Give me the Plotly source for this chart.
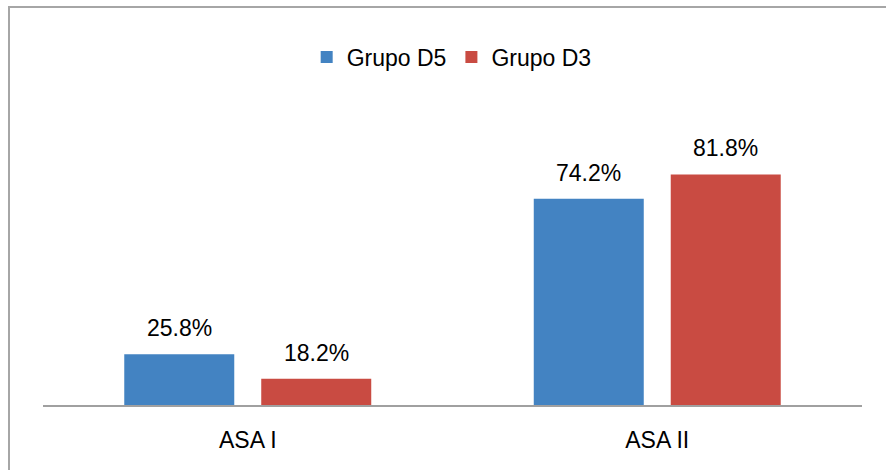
import plotly.graph_objects as go

# Data
categories = ["ASA I", "ASA II"]
series_names = ["Grupo D5", "Grupo D3"]
grupo_d5 = [25.8, 74.2]
grupo_d3 = [18.2, 81.8]
series_values = [grupo_d5, grupo_d3]
series_colors = ["#4383C2", "#C94B42"]

W, H = 886, 470
M_L, M_R, M_T, M_B = 43, 24, 116, 65
BARGAP = 0.331
BARGROUPGAP = 0.197
Y_RANGE = [10, 100]
FONT = "Liberation Sans"
FS = 23

fig = go.Figure()
for name, vals, col in zip(series_names, series_values, series_colors):
    fig.add_trace(go.Bar(
        name=name, x=categories, y=vals,
        marker=dict(color=col, line=dict(width=0)),
        hoverinfo="skip",
    ))

# Value labels above each bar, offset to the bar's slot within the group
n = len(series_values)
slot = (1 - BARGAP) / n
annotations = []
for k, vals in enumerate(series_values):
    off = -(1 - BARGAP) / 2 + slot * (k + 0.5)
    for i, v in enumerate(vals):
        annotations.append(dict(
            x=i + off, y=v, xref="x", yref="y",
            text=f"{v:.1f}%", showarrow=False,
            yanchor="bottom", yshift=11,
            font=dict(family=FONT, size=FS, color="#000000"),
        ))

fig.update_layout(
    width=W, height=H,
    margin=dict(l=M_L, r=M_R, t=M_T, b=M_B, pad=0),
    paper_bgcolor="white", plot_bgcolor="white",
    barmode="group", bargap=BARGAP, bargroupgap=BARGROUPGAP,
    font=dict(family=FONT, size=FS, color="#000000"),
    showlegend=True,
    legend=dict(
        orientation="h", x=0.499, xanchor="center",
        y=1.204, yanchor="middle",
        font=dict(family=FONT, size=FS, color="#000000"),
        bgcolor="rgba(0,0,0,0)",
    ),
    xaxis=dict(
        showline=True, linecolor="#a0a0a0", linewidth=2,
        showgrid=False, zeroline=False, ticks="",
        ticklabelstandoff=13,
        tickfont=dict(family=FONT, size=FS, color="#000000"),
        fixedrange=True,
    ),
    yaxis=dict(range=Y_RANGE, visible=False, fixedrange=True),
    annotations=annotations,
    shapes=[dict(
        type="rect", xref="paper", yref="paper",
        x0=(9 - M_L) / (W - M_L - M_R), x1=1.2,
        y0=-0.5, y1=(H - M_B - 7) / (H - M_T - M_B),
        line=dict(color="#a6a6a6", width=2),
        fillcolor="rgba(0,0,0,0)", layer="below",
    )],
)

fig.write_html("out.html")
